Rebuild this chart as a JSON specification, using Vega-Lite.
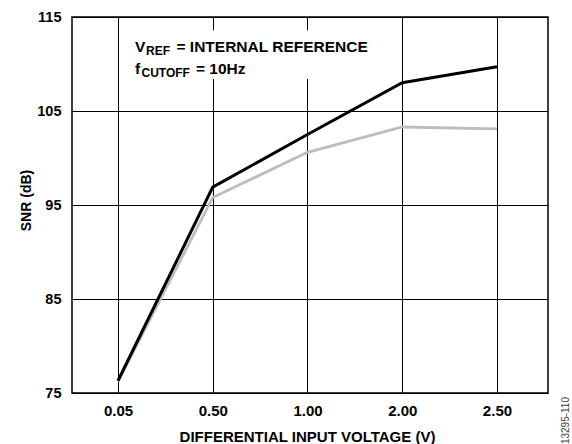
{
  "$schema": "https://vega.github.io/schema/vega-lite/v6.json",
  "width": 476,
  "height": 376,
  "autosize": {"type": "none"},
  "padding": {"left": 72, "top": 17, "right": 24, "bottom": 51},
  "background": "white",
  "config": {
    "view": {"stroke": "black", "strokeWidth": 1.5},
    "font": "Liberation Sans",
    "axis": {
      "domain": false,
      "ticks": false,
      "grid": true,
      "gridColor": "black",
      "gridWidth": 1,
      "gridOpacity": 1,
      "labelFont": "Liberation Sans",
      "labelFontWeight": "bold",
      "labelColor": "black",
      "titleFont": "Liberation Sans",
      "titleFontWeight": "bold",
      "titleColor": "black"
    }
  },
  "datasets": {
    "snr": [
      {"voltage": "0.05", "curve": "Curve 1", "snr": 76.3},
      {"voltage": "0.50", "curve": "Curve 1", "snr": 96.9},
      {"voltage": "1.00", "curve": "Curve 1", "snr": 102.5},
      {"voltage": "2.00", "curve": "Curve 1", "snr": 108.0},
      {"voltage": "2.50", "curve": "Curve 1", "snr": 109.7},
      {"voltage": "0.05", "curve": "Curve 2", "snr": 76.2},
      {"voltage": "0.50", "curve": "Curve 2", "snr": 95.8},
      {"voltage": "1.00", "curve": "Curve 2", "snr": 100.6},
      {"voltage": "2.00", "curve": "Curve 2", "snr": 103.3},
      {"voltage": "2.50", "curve": "Curve 2", "snr": 103.1}
    ]
  },
  "layer": [
    {
      "data": {"name": "snr"},
      "transform": [{"filter": "datum.curve === 'Curve 2'"}],
      "mark": {"type": "line", "color": "#bdbdbd", "strokeWidth": 2.8},
      "encoding": {
        "x": {
          "field": "voltage",
          "type": "ordinal",
          "sort": ["0.05", "0.50", "1.00", "2.00", "2.50"],
          "scale": {"type": "point", "padding": 0.512, "align": 0.474},
          "axis": {
            "title": "DIFFERENTIAL INPUT VOLTAGE (V)",
            "labelAngle": 0,
            "labelFontSize": 15,
            "labelPadding": 10,
            "titleFontSize": 15,
            "titleBaseline": "alphabetic",
            "titleY": 48.5,
            "titleX": 235
          }
        },
        "y": {
          "field": "snr",
          "type": "quantitative",
          "scale": {"domain": [75, 115], "nice": false, "zero": false},
          "axis": {
            "title": "SNR (dB)",
            "values": [75, 85, 95, 105, 115],
            "labelFontSize": 14.5,
            "labelPadding": 11,
            "titleFontSize": 14,
            "titleBaseline": "alphabetic",
            "titleX": -42,
            "titleY": 183
          }
        }
      }
    },
    {
      "data": {"values": [{}]},
      "mark": {"type": "rect", "fill": "white", "strokeWidth": 0, "xOffset": 12, "x2Offset": -22},
      "encoding": {
        "x": {"datum": "0.05", "type": "ordinal"},
        "x2": {"datum": "2.00"},
        "y": {"datum": 113.6, "type": "quantitative"},
        "y2": {"datum": 108.4}
      }
    },
    {
      "data": {"name": "snr"},
      "transform": [{"filter": "datum.curve === 'Curve 1'"}],
      "mark": {"type": "line", "color": "black", "strokeWidth": 3},
      "encoding": {
        "x": {"field": "voltage", "type": "ordinal", "sort": ["0.05", "0.50", "1.00", "2.00", "2.50"]},
        "y": {"field": "snr", "type": "quantitative"}
      }
    },
    {
      "data": {"values": [{}]},
      "mark": {"type": "text", "text": "V", "fontSize": 15.5, "fontWeight": "bold", "align": "left", "baseline": "alphabetic", "color": "black", "xOffset": 17},
      "encoding": {"x": {"datum": "0.05", "type": "ordinal"}, "y": {"datum": 111.24, "type": "quantitative"}}
    },
    {
      "data": {"values": [{}]},
      "mark": {"type": "text", "text": "REF", "fontSize": 12, "fontWeight": "bold", "align": "left", "baseline": "alphabetic", "color": "black", "xOffset": 28, "yOffset": 3},
      "encoding": {"x": {"datum": "0.05", "type": "ordinal"}, "y": {"datum": 111.24, "type": "quantitative"}}
    },
    {
      "data": {"values": [{}]},
      "mark": {"type": "text", "text": "= INTERNAL REFERENCE", "fontSize": 15.5, "fontWeight": "bold", "align": "left", "baseline": "alphabetic", "color": "black", "xOffset": 58.5},
      "encoding": {"x": {"datum": "0.05", "type": "ordinal"}, "y": {"datum": 111.24, "type": "quantitative"}}
    },
    {
      "data": {"values": [{}]},
      "mark": {"type": "text", "text": "f", "fontSize": 15.5, "fontWeight": "bold", "align": "left", "baseline": "alphabetic", "color": "black", "xOffset": 17},
      "encoding": {"x": {"datum": "0.05", "type": "ordinal"}, "y": {"datum": 108.94, "type": "quantitative"}}
    },
    {
      "data": {"values": [{}]},
      "mark": {"type": "text", "text": "CUTOFF", "fontSize": 12, "fontWeight": "bold", "align": "left", "baseline": "alphabetic", "color": "black", "xOffset": 23.5, "yOffset": 3},
      "encoding": {"x": {"datum": "0.05", "type": "ordinal"}, "y": {"datum": 108.94, "type": "quantitative"}}
    },
    {
      "data": {"values": [{}]},
      "mark": {"type": "text", "text": "= 10Hz", "fontSize": 15.5, "fontWeight": "bold", "align": "left", "baseline": "alphabetic", "color": "black", "xOffset": 78},
      "encoding": {"x": {"datum": "0.05", "type": "ordinal"}, "y": {"datum": 108.94, "type": "quantitative"}}
    },
    {
      "data": {"values": [{}]},
      "mark": {"type": "text", "text": "13295-110", "fontSize": 10, "angle": 270, "align": "right", "baseline": "middle", "color": "#444444", "xOffset": 69, "yOffset": 4},
      "encoding": {"x": {"datum": "2.50", "type": "ordinal"}, "y": {"datum": 75, "type": "quantitative"}}
    }
  ]
}
